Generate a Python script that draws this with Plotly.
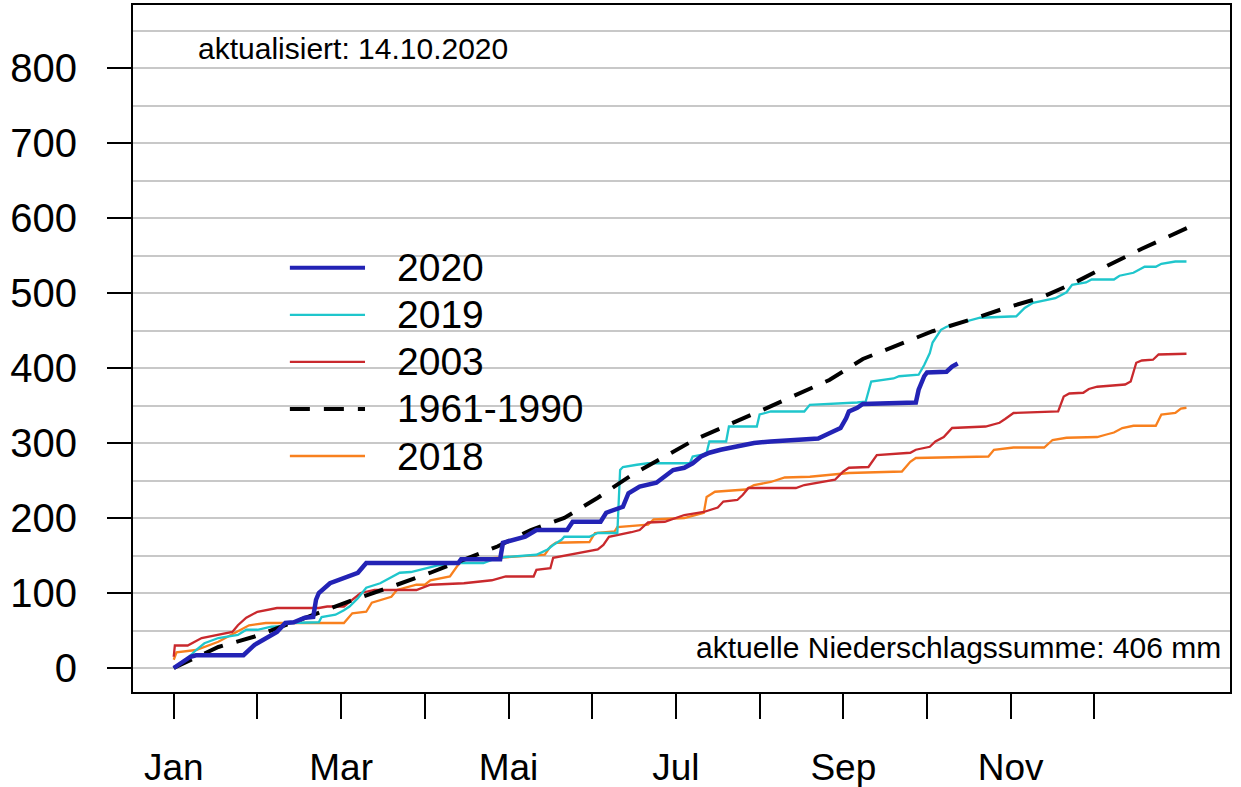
import plotly.graph_objects as go

# ---------------- data (day of year, cumulative precipitation in mm) ----------------
month_labels = ["Jan", "", "Mar", "", "Mai", "", "Jul", "", "Sep", "", "Nov", ""]
month_ticks = [1 + 30 * k for k in range(12)]

days_2020 = [1, 7, 9, 26, 30, 35, 38, 41, 44, 48, 51, 52, 53, 57, 62, 67, 70, 103, 104, 118, 119,
             123, 127, 131, 142, 144, 154, 156, 162, 164, 168, 174, 177, 180, 184, 187, 190, 193,
             197, 203, 209, 215, 224, 232, 236, 240, 242, 243, 246, 248, 267, 268, 270, 271, 278,
             280, 282]
vals_2020 = [0, 15, 17, 17, 31, 41, 48, 60, 61, 67, 68, 91, 100, 113, 120, 127, 140, 140, 145, 145,
             167, 171, 175, 184, 184, 195, 195, 207, 215, 233, 242, 247, 255, 264, 267, 273, 282,
             287, 291, 295, 300, 302, 304, 306, 313, 320, 333, 342, 347, 352, 354, 371, 389, 394,
             395, 402, 406]

days_2019 = [1, 6, 9, 12, 17, 24, 27, 31, 36, 41, 42, 53, 54, 59, 62, 64, 67, 70, 75, 82, 86, 92,
             96, 102, 112, 115, 120, 131, 135, 137, 140, 141, 150, 153, 160, 161, 162, 167, 171,
             186, 187, 190, 192, 193, 199, 200, 210, 211, 215, 227, 229, 246, 249, 251, 259, 261,
             268, 270, 272, 273, 276, 278, 285, 290, 303, 306, 309, 317, 321, 323, 328, 330, 338,
             340, 345, 347, 349, 353, 355, 360, 364]
vals_2019 = [0, 13, 24, 33, 40, 44, 51, 51, 55, 56, 60, 61, 68, 71, 77, 82, 93, 107, 113, 127, 128,
             133, 137, 140, 140, 144, 148, 151, 158, 164, 171, 175, 175, 180, 180, 264, 268, 271,
             273, 273, 282, 284, 287, 302, 302, 322, 322, 338, 342, 342, 351, 354, 355, 382, 386,
             389, 391, 404, 420, 434, 451, 455, 462, 467, 469, 480, 487, 493, 501, 511, 514, 518,
             518, 523, 527, 531, 535, 535, 539, 542, 542]

days_2003 = [1, 1.4, 6, 11, 22, 24, 27, 31, 38, 53, 56, 62, 68, 73, 88, 93, 105, 115, 120, 130,
             131, 136, 137, 143, 153, 155, 157, 165, 168, 171, 177, 184, 191, 196, 198, 203, 205,
             207, 224, 227, 234, 238, 241, 243, 250, 253, 265, 267, 272, 274, 277, 280, 292, 297,
             299, 302, 318, 320, 322, 327, 329, 332, 342, 344, 346, 348, 352, 354, 364]
vals_2003 = [15, 30, 30, 40, 48, 57, 67, 75, 80, 80, 82, 82, 100, 104, 104, 111, 113, 117, 122, 122,
             131, 133, 147, 151, 158, 164, 175, 181, 184, 194, 195, 204, 208, 214, 222, 224, 231,
             240, 240, 244, 248, 251, 262, 267, 268, 284, 287, 291, 295, 302, 308, 320, 322, 327,
             332, 340, 342, 362, 366, 367, 372, 375, 378, 382, 407, 410, 411, 418, 419]

days_norm = [1, 17, 30, 55, 67, 81, 93, 117, 129, 141, 153, 165, 188, 212, 236, 248, 273, 287, 300,
             312, 324, 336, 348, 365]
vals_norm = [0, 28, 42, 77, 93, 111, 127, 162, 184, 200, 227, 257, 305, 344, 384, 412, 449, 465,
             481, 494, 514, 537, 559, 588]

days_2018 = [1, 2, 9, 12, 17, 23, 28, 34, 62, 65, 70, 72, 79, 81, 88, 91, 93, 100, 103, 105, 117,
             121, 134, 136, 138, 150, 152, 159, 160, 171, 173, 184, 191, 192, 195, 206, 209, 215,
             220, 229, 236, 243, 262, 265, 267, 288, 293, 295, 302, 313, 316, 321, 332, 335, 338,
             341, 345, 353, 355, 360, 362, 364]
vals_2018 = [11, 21, 24, 28, 35, 47, 57, 60, 60, 73, 75, 87, 95, 104, 111, 111, 117, 122, 138, 144,
             147, 148, 151, 162, 167, 168, 180, 182, 188, 191, 198, 200, 207, 228, 235, 238, 244,
             248, 254, 255, 258, 260, 262, 275, 280, 282, 282, 291, 294, 294, 304, 307, 308, 311,
             314, 320, 323, 323, 338, 340, 346, 347]

update_text = "aktualisiert: 14.10.2020"
total_text = "aktuelle Niederschlagssumme: 406 mm"

# ---------------- styles ----------------
series = [
    # name, x, y, color, width, dash
    ("2018", days_2018, vals_2018, "#F8801E", 2.3, "solid"),
    ("2003", days_2003, vals_2003, "#C9292D", 2.3, "solid"),
    ("2019", days_2019, vals_2019, "#1FC6CC", 2.3, "solid"),
    ("1961-1990", days_norm, vals_norm, "#000000", 4, "20px,14px"),
    ("2020", days_2020, vals_2020, "#2323B5", 4.5, "solid"),
]
legend_order = ["2020", "2019", "2003", "1961-1990", "2018"]

FONT = "Liberation Sans, Arial, sans-serif"

fig = go.Figure()
for name, xs, ys, col, w, dash in series:
    fig.add_trace(go.Scatter(x=xs, y=ys, mode="lines", name=name,
                             line=dict(color=col, width=w, dash=dash),
                             showlegend=False))

# custom legend (long line samples like the original)
style = {s[0]: s for s in series}
leg_x0, leg_x1, leg_tx = 0.1430, 0.2115, 0.2390   # paper fractions
leg_top, leg_step = 0.6175, 0.0685
for i, name in enumerate(legend_order):
    _, _, _, col, w, dash = style[name]
    yy = leg_top - i * leg_step
    fig.add_shape(type="line", xref="paper", yref="paper", x0=leg_x0, x1=leg_x1, y0=yy, y1=yy,
                  line=dict(color=col, width=w if name != "2020" else 4, dash=dash))
    fig.add_annotation(xref="paper", yref="paper", x=leg_tx, y=yy, text=name, showarrow=False,
                       xanchor="left", yanchor="middle", font=dict(size=39, color="black", family=FONT))

fig.add_annotation(x=9, y=826, xref="x", yref="y", text=update_text, showarrow=False,
                   xanchor="left", yanchor="middle", font=dict(size=30, color="black", family=FONT))
fig.add_annotation(x=377, y=27, xref="x", yref="y", text=total_text, showarrow=False,
                   xanchor="right", yanchor="middle", font=dict(size=30, color="black", family=FONT))

fig.update_layout(
    width=1241, height=787,
    margin=dict(l=133, r=11, t=5, b=95),
    paper_bgcolor="white", plot_bgcolor="white",
    font=dict(family=FONT, color="black"),
    showlegend=False,
)
fig.update_xaxes(range=[-13.6, 379.6], tickmode="array", tickvals=month_ticks, ticktext=month_labels,
                 ticks="outside", ticklen=25, tickwidth=1.5, tickcolor="black",
                 showline=True, mirror=True, linewidth=2, linecolor="black",
                 showgrid=False, zeroline=False, tickfont=dict(size=37),
                 ticklabelstandoff=17, automargin=False)
fig.update_yaxes(range=[-32, 884], tickmode="array", tickvals=list(range(0, 801, 100)),
                 ticks="outside", ticklen=24, tickwidth=1.5, tickcolor="black",
                 showline=True, mirror=True, linewidth=2, linecolor="black",
                 showgrid=True, gridcolor="#c8c8c8", gridwidth=2, zeroline=False,
                 tickfont=dict(size=40), ticklabelstandoff=22, automargin=False,
                 minor=dict(tickmode="linear", tick0=0, dtick=50, showgrid=True,
                            gridcolor="#c8c8c8", gridwidth=2, ticks=""))

fig.write_html("out.html", config={"displayModeBar": False},
               post_script="document.body.style.margin='0px';")
